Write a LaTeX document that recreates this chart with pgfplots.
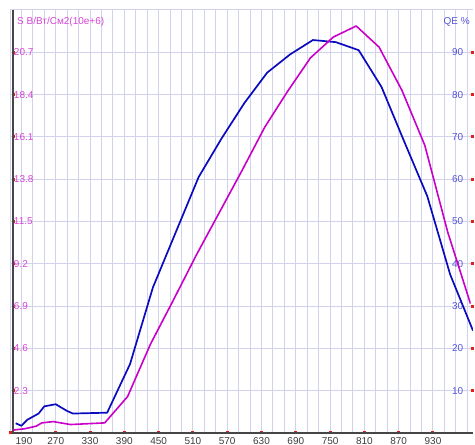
\documentclass[border=0pt]{standalone}
\usepackage{pgfplots}
\pgfplotsset{compat=1.18}
\usepackage{fontspec}
\setmainfont{Liberation Sans}
\definecolor{gridc}{RGB}{210,210,236}
\definecolor{qeblue}{RGB}{10,10,190}
\definecolor{smag}{RGB}{200,0,200}
\definecolor{lblmag}{RGB}{215,70,215}
\definecolor{lblblue}{RGB}{85,85,215}
\definecolor{axgray}{RGB}{70,70,70}
\definecolor{tickred}{RGB}{225,30,30}
\definecolor{xlbl}{RGB}{60,60,60}

\pgfplotstableread{
lam qe
200 2.3
210 1.7
220 3.1
240 4.6
250 6.3
270 6.8
290 5.2
300 4.6
360 4.8
400 16.3
440 34.4
520 60.5
560 69.6
600 78.0
640 85.2
680 89.5
720 92.9
760 92.4
800 90.5
840 81.8
880 68.8
920 56.0
960 37.5
1000 24.2
}\qedata

\pgfplotstableread{
lam s
200 0.16
220 0.23
240 0.37
250 0.55
270 0.62
300 0.46
360 0.55
400 1.98
440 4.83
480 7.22
520 9.66
560 11.96
600 14.26
640 16.63
680 18.58
720 20.40
760 21.53
800 22.13
840 20.98
880 18.63
920 15.64
960 10.93
1000 7.02
}\sdata

\begin{document}
\begin{tikzpicture}[x=1pt,y=1pt]
\useasboundingbox (-10,-12) rectangle (465,433);
% main axis (QE, right)
\begin{axis}[
  at={(0,0)}, anchor=south west, scale only axis,
  width=463pt, height=423pt,
  xmin=190, xmax=1000, ymin=0, ymax=100,
  axis x line*=bottom, axis y line*=right,
  x axis line style={axgray, line width=1.2pt, -},
  y axis line style={draw=none},
  xtick={270,330,...,930},
  extra x ticks={190},
  extra x tick labels={190},
  extra x tick style={xticklabel style={xshift=14pt}},
  minor xtick={190,210,...,990},
  ytick={10,20,...,90},
  xmajorgrids, xminorgrids, ymajorgrids,
  grid style={gridc, line width=1pt},
  minor grid style={gridc, line width=1pt},
  minor tick length=0pt,
  major tick length=3pt,
  tick align=center,
  major tick style={tickred, line width=3pt},
  /pgf/number format/assume math mode=true,
  tick label style={font=\fontsize{10pt}{11pt}\selectfont},
  xticklabel style={text=xlbl, anchor=north, inner sep=0pt, yshift=-2.5pt},
  yticklabel style={text=lblblue, anchor=east, inner sep=0pt, xshift=-11pt},
]
\draw[gridc, line width=1pt] (axis cs:190,100) -- (axis cs:1000,100);
\addplot[qeblue, line width=1.7pt, line join=round] table[x=lam, y=qe] {\qedata};
\end{axis}
% left axis (S)
\begin{axis}[
  at={(5.716,0)}, anchor=south west, scale only axis,
  width=457.28pt, height=423pt,
  xmin=200, xmax=1000, ymin=0, ymax=23,
  axis x line=none, axis y line*=left,
  y axis line style={axgray, line width=1.6pt, -},
  ytick={2.3,4.6,6.9,9.2,11.5,13.8,16.1,18.4,20.7},
  yticklabels={2.3,4.6,6.9,9.2,11.5,13.8,16.1,18.4,20.7},
  major tick length=3pt,
  tick align=center,
  major tick style={tickred, line width=3pt},
  tick label style={font=\fontsize{10pt}{11pt}\selectfont},
  yticklabel style={text=lblmag, anchor=west, inner sep=0pt, xshift=2pt},
]
\addplot[smag, line width=1.6pt, line join=round] table[x=lam, y=s] {\sdata};
\end{axis}
\node[anchor=west, text=lblmag, inner sep=0pt, font=\fontsize{10pt}{11pt}\selectfont] at (7,411) {S В/Вт/См2(10e+6)};
\node[anchor=east, text=lblblue, inner sep=0pt, font=\fontsize{10pt}{11pt}\selectfont] at (460,411) {QE \%};
\end{tikzpicture}
\end{document}
